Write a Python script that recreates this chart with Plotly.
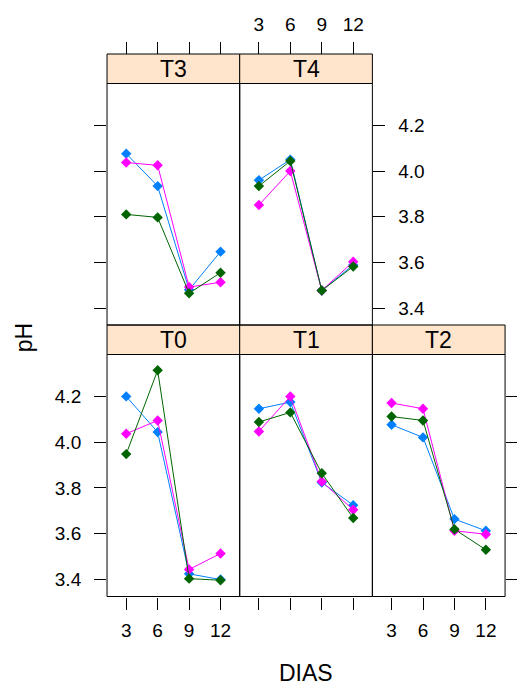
import plotly.graph_objects as go

# ---- data ----
days = [3, 6, 9, 12]
treatments = ["T0", "T1", "T2", "T3", "T4"]
group_names = ["R1", "R2", "R3"]
group_colors = ["#0080ff", "#ff00ff", "#006400"]

ph_r1 = {
    "T0": [4.200, 4.044, 3.425, 3.400],
    "T1": [4.146, 4.175, 3.824, 3.725],
    "T2": [4.076, 4.021, 3.664, 3.613],
    "T3": [4.076, 3.934, 3.480, 3.647],
    "T4": [3.960, 4.050, 3.477, 3.589],
}
ph_r2 = {
    "T0": [4.037, 4.095, 3.444, 3.514],
    "T1": [4.047, 4.200, 3.828, 3.705],
    "T2": [4.171, 4.146, 3.613, 3.598],
    "T3": [4.037, 4.025, 3.492, 3.513],
    "T4": [3.851, 4.000, 3.477, 3.603],
}
ph_r3 = {
    "T0": [3.948, 4.314, 3.404, 3.397],
    "T1": [4.088, 4.130, 3.864, 3.669],
    "T2": [4.112, 4.095, 3.620, 3.530],
    "T3": [3.810, 3.797, 3.465, 3.555],
    "T4": [3.934, 4.044, 3.477, 3.582],
}
series = [ph_r1, ph_r2, ph_r3]

x_ticks = [3, 6, 9, 12]
y_ticks = [3.4, 3.6, 3.8, 4.0, 4.2]
y_tick_text = ["3.4", "3.6", "3.8", "4.0", "4.2"]

# ---- layout geometry (pixels) ----
W, H = 517, 685
def px(x):
    return x / W
def py(y):
    return 1 - y / H

panels = {
    "T3": (108.5, 243.0, 83.5, 325.0),
    "T4": (243.0, 377.5, 83.5, 325.0),
    "T0": (108.5, 243.0, 354.5, 596.5),
    "T1": (243.0, 377.5, 354.5, 596.5),
    "T2": (377.5, 512.0, 354.5, 596.5),
}
strip_h = 29.5
XR = [1.17, 13.83]
YR = [3.326, 4.383]
FONT = "Liberation Sans, Arial, sans-serif"
TICKFONT = dict(family=FONT, size=19, color="black")

# axis config per panel: (x side, x labels, y side, y labels)
axcfg = {
    "T0": ("bottom", True, "left", True),
    "T1": ("bottom", False, None, False),
    "T2": ("bottom", True, "right", False),
    "T3": ("top", False, "left", False),
    "T4": ("top", True, "right", True),
}

fig = go.Figure()
layout = dict(
    width=W, height=H, margin=dict(l=0, r=0, t=0, b=0),
    paper_bgcolor="white", plot_bgcolor="white", showlegend=False,
)
shapes = []
annotations = []

for i, t in enumerate(["T0", "T1", "T2", "T3", "T4"]):
    n = i + 1
    xa = "x" if n == 1 else f"x{n}"
    ya = "y" if n == 1 else f"y{n}"
    xkey = "xaxis" if n == 1 else f"xaxis{n}"
    ykey = "yaxis" if n == 1 else f"yaxis{n}"
    x0, x1, y0, y1 = panels[t]
    xs, xl, ys, yl = axcfg[t]

    xaxis = dict(
        domain=[px(x0), px(x1)], range=XR, showgrid=False, zeroline=False,
        showline=False, tickvals=x_ticks, ticktext=[str(v) for v in x_ticks],
        ticks="outside", ticklen=12, tickwidth=1, tickcolor="black",
        showticklabels=xl, tickfont=TICKFONT, side=xs,
    )
    if xs == "top":
        xaxis.update(anchor="free", position=py(y0 - strip_h), ticklabelstandoff=3)
    else:
        xaxis.update(anchor=ya, ticklabelstandoff=5)
    yaxis = dict(
        domain=[py(y1), py(y0)], range=YR, showgrid=False, zeroline=False,
        showline=False, tickvals=y_ticks, ticktext=y_tick_text,
        tickfont=TICKFONT, anchor=xa,
    )
    if ys is None:
        yaxis.update(ticks="", showticklabels=False)
    else:
        yaxis.update(side=ys, ticks="outside", ticklen=12, tickwidth=1,
                     tickcolor="black", showticklabels=yl, ticklabelstandoff=9)
    layout[xkey] = xaxis
    layout[ykey] = yaxis

    for g, (s, c, name) in enumerate(zip(series, group_colors, group_names)):
        fig.add_trace(go.Scatter(
            x=days, y=s[t], mode="lines+markers", name=name,
            line=dict(color=c, width=1),
            marker=dict(symbol="diamond", size=8, color=c),
            xaxis=xa, yaxis=ya,
        ))

    # panel border
    shapes.append(dict(type="rect", xref="paper", yref="paper",
                       x0=px(x0), x1=px(x1), y0=py(y1), y1=py(y0),
                       line=dict(color="black", width=1), layer="above"))
    # strip
    shapes.append(dict(type="rect", xref="paper", yref="paper",
                       x0=px(x0), x1=px(x1), y0=py(y0), y1=py(y0 - strip_h),
                       fillcolor="#ffe5cc", line=dict(color="black", width=1),
                       layer="above"))
    annotations.append(dict(text=t, xref="paper", yref="paper",
                            x=px((x0 + x1) / 2), y=py(y0 - strip_h / 2),
                            showarrow=False, xanchor="center", yanchor="middle",
                            font=dict(family=FONT, size=23, color="black")))

annotations.append(dict(text="DIAS", xref="paper", yref="paper",
                        x=px(310), y=py(672.5), showarrow=False,
                        xanchor="center", yanchor="middle",
                        font=dict(family=FONT, size=23, color="black")))
annotations.append(dict(text="pH", xref="paper", yref="paper",
                        x=px(24), y=py(337.5), showarrow=False, textangle=-90,
                        xanchor="center", yanchor="middle",
                        font=dict(family=FONT, size=23, color="black")))

layout["shapes"] = shapes
layout["annotations"] = annotations
fig.update_layout(**layout)
fig.write_html("out.html")
